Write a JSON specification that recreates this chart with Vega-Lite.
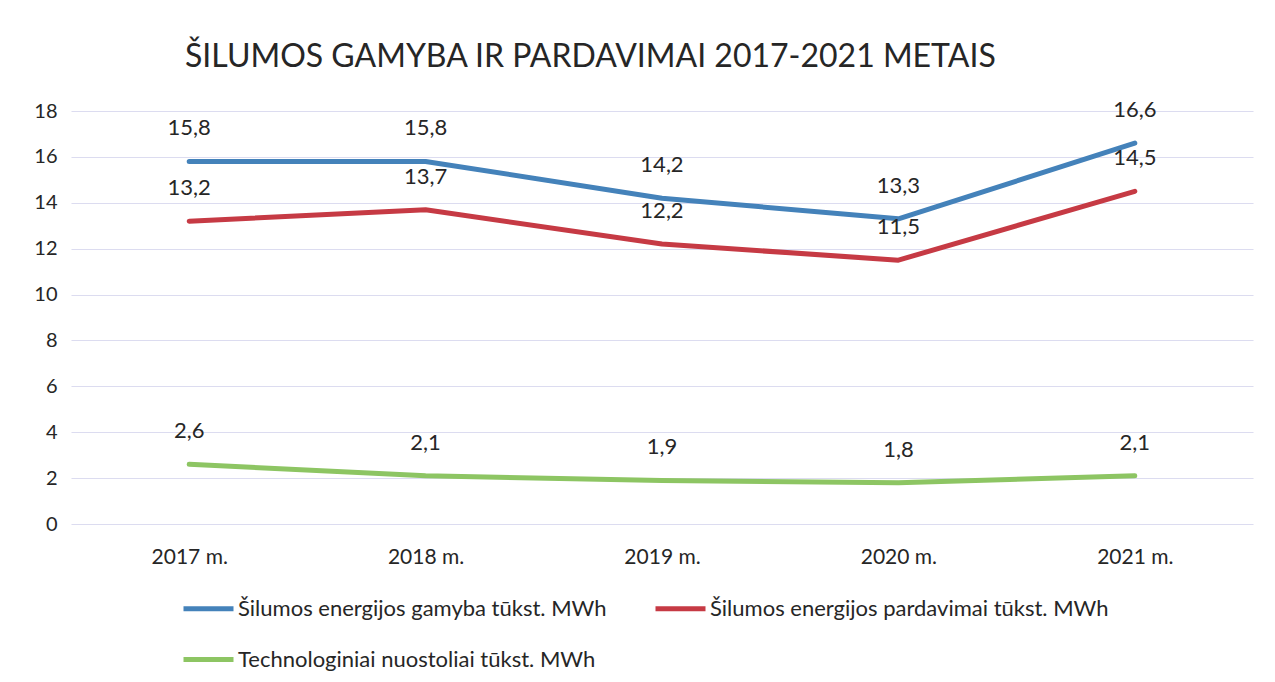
{
  "$schema": "https://vega.github.io/schema/vega-lite/v6.json",
  "width": 1182,
  "height": 413,
  "autosize": "none",
  "padding": {"left": 71, "top": 111, "right": 22, "bottom": 158},
  "background": "white",
  "config": {"view": {"stroke": null}, "font": "Lato"},
  "title": {
    "text": "ŠILUMOS GAMYBA IR PARDAVIMAI 2017-2021 METAIS",
    "anchor": "start",
    "frame": "group",
    "dx": 114,
    "offset": 25,
    "fontSize": 32,
    "fontWeight": "normal",
    "font": "Lato",
    "color": "#262626"
  },
  "data": {
    "values": [
      {"metai": "2017 m.", "serija": "Šilumos energijos gamyba tūkst. MWh", "reiksme": 15.8, "zyma": "15,8"},
      {"metai": "2018 m.", "serija": "Šilumos energijos gamyba tūkst. MWh", "reiksme": 15.8, "zyma": "15,8"},
      {"metai": "2019 m.", "serija": "Šilumos energijos gamyba tūkst. MWh", "reiksme": 14.2, "zyma": "14,2"},
      {"metai": "2020 m.", "serija": "Šilumos energijos gamyba tūkst. MWh", "reiksme": 13.3, "zyma": "13,3"},
      {"metai": "2021 m.", "serija": "Šilumos energijos gamyba tūkst. MWh", "reiksme": 16.6, "zyma": "16,6"},
      {"metai": "2017 m.", "serija": "Šilumos energijos pardavimai tūkst. MWh", "reiksme": 13.2, "zyma": "13,2"},
      {"metai": "2018 m.", "serija": "Šilumos energijos pardavimai tūkst. MWh", "reiksme": 13.7, "zyma": "13,7"},
      {"metai": "2019 m.", "serija": "Šilumos energijos pardavimai tūkst. MWh", "reiksme": 12.2, "zyma": "12,2"},
      {"metai": "2020 m.", "serija": "Šilumos energijos pardavimai tūkst. MWh", "reiksme": 11.5, "zyma": "11,5"},
      {"metai": "2021 m.", "serija": "Šilumos energijos pardavimai tūkst. MWh", "reiksme": 14.5, "zyma": "14,5"},
      {"metai": "2017 m.", "serija": "Technologiniai nuostoliai tūkst. MWh", "reiksme": 2.6, "zyma": "2,6"},
      {"metai": "2018 m.", "serija": "Technologiniai nuostoliai tūkst. MWh", "reiksme": 2.1, "zyma": "2,1"},
      {"metai": "2019 m.", "serija": "Technologiniai nuostoliai tūkst. MWh", "reiksme": 1.9, "zyma": "1,9"},
      {"metai": "2020 m.", "serija": "Technologiniai nuostoliai tūkst. MWh", "reiksme": 1.8, "zyma": "1,8"},
      {"metai": "2021 m.", "serija": "Technologiniai nuostoliai tūkst. MWh", "reiksme": 2.1, "zyma": "2,1"}
    ]
  },
  "encoding": {
    "x": {
      "field": "metai",
      "type": "ordinal",
      "scale": {"type": "point", "padding": 0.5},
      "axis": {
        "title": null,
        "labelAngle": 0,
        "domain": false,
        "ticks": false,
        "labelFontSize": 21,
        "labelColor": "#262626",
        "labelPadding": 22,
        "labelFont": "Lato"
      }
    },
    "y": {
      "field": "reiksme",
      "type": "quantitative",
      "scale": {"domain": [0, 18], "nice": false},
      "axis": {
        "title": null,
        "values": [0, 2, 4, 6, 8, 10, 12, 14, 16, 18],
        "domain": false,
        "ticks": false,
        "labelFontSize": 20,
        "labelColor": "#262626",
        "labelPadding": 14,
        "labelFont": "Lato",
        "gridColor": "#dcdcf0",
        "gridWidth": 1.2
      }
    },
    "color": {
      "field": "serija",
      "type": "nominal",
      "scale": {
        "domain": ["Šilumos energijos gamyba tūkst. MWh", "Šilumos energijos pardavimai tūkst. MWh", "Technologiniai nuostoliai tūkst. MWh"],
        "range": ["#4482ba", "#c63a44", "#8dc563"]
      },
      "legend": {
        "title": null,
        "orient": "none",
        "legendX": 110,
        "legendY": 470,
        "direction": "horizontal",
        "columns": 2,
        "columnPadding": 38,
        "rowPadding": 12,
        "symbolType": "stroke",
        "symbolSize": 2500,
        "symbolStrokeWidth": 5,
        "labelFontSize": 22,
        "labelColor": "#262626",
        "labelFont": "Lato",
        "labelOffset": 2,
        "labelLimit": 500
      }
    }
  },
  "layer": [
    {
      "mark": {"type": "line", "strokeWidth": 5, "strokeCap": "round", "strokeJoin": "round"}
    },
    {
      "mark": {"type": "text", "dy": -33, "fontSize": 22, "color": "#262626", "font": "Lato", "baseline": "middle"},
      "encoding": {
        "text": {"field": "zyma"},
        "color": {"value": "#262626"}
      }
    }
  ]
}
